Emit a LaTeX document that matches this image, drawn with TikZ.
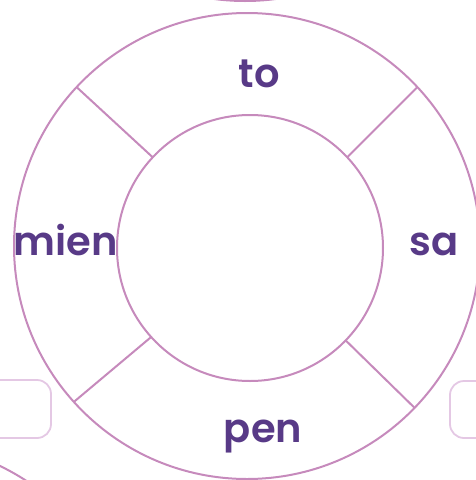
\documentclass[tikz,border=0pt]{standalone}
\usepackage{fontspec}
\setmainfont{Poppins}[BoldFont={Poppins SemiBold}]
\usepackage{tikz}
\usetikzlibrary{positioning}
\definecolor{ringpink}{RGB}{198,138,188}
\definecolor{lightpink}{RGB}{228,200,228}
\definecolor{labelpurple}{RGB}{88,58,135}
\tikzset{
  ring/.style={circle, draw=ringpink, line width=2pt, inner sep=0pt, outer sep=0pt},
  spoke/.style={draw=ringpink, line width=2pt},
  sidebox/.style={draw=lightpink, line width=1.8pt, rounded corners=14pt},
  word/.style={anchor=base, text=labelpurple, font=\fontsize{40}{48}\selectfont\bfseries, inner sep=0pt}
}

\begin{document}
\begin{tikzpicture}[x=1pt, y=-1pt]
  \useasboundingbox (0,0) rectangle (476,480);
  \clip (0,0) rectangle (476,480);

  % Neighbouring pieces cut by the frame
  \draw[ringpink, line width=2pt] (245,-232) circle (233);
  \draw[ringpink, line width=2pt] (-101,676) circle (233);
  \draw[sidebox] (-40,380) rectangle (51,438);
  \draw[sidebox] (450,381) rectangle (540,438);

  % Ring
  \node[ring, minimum size=466pt] (outer) at (247,246) {};
  \node[ring, minimum size=266pt] (inner) at (250,248) {};

  % Spokes
  \draw[spoke] (inner.137) -- (outer.137);
  \draw[spoke] (inner.43) -- (outer.43);
  \draw[spoke] (inner.222) -- (outer.222);
  \draw[spoke] (inner.316) -- (outer.316);

  % Labels
  \node[word] (to) at (259,87) {to};
  \node[word] (sa) at (434,255) {sa};
  \node[word] (mien) at (66,255) {mien};
  \node[word] (pen) at (263,442) {pen};
\end{tikzpicture}
\end{document}
